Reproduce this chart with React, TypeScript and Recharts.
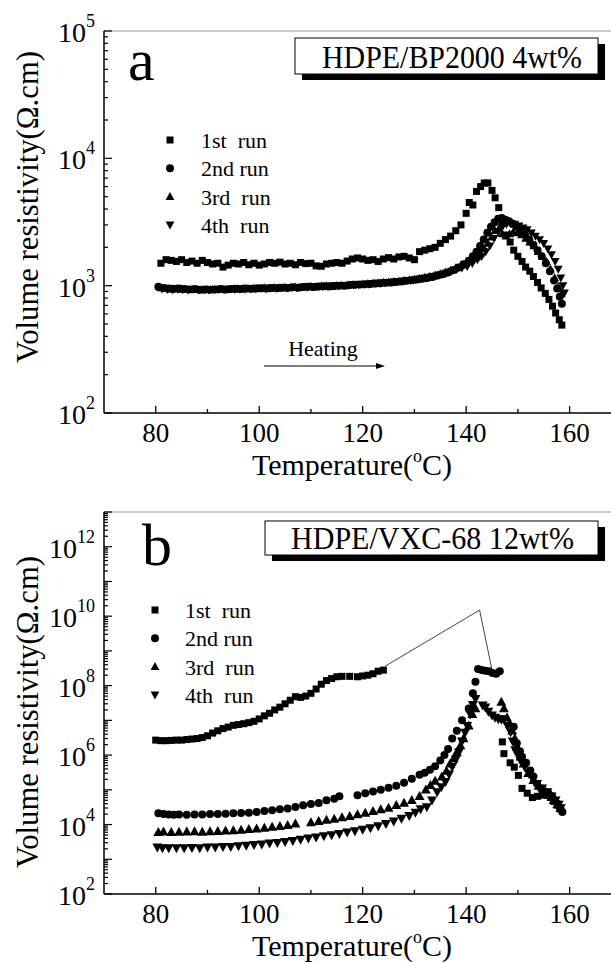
import React from 'react';
import { ScatterChart, Scatter, XAxis, YAxis, ReferenceLine } from 'recharts';

const FONT = "'Liberation Serif', 'Times New Roman', 'DejaVu Serif', serif";
const fontStyle = (size: number): React.CSSProperties => ({ fontFamily: FONT, fontSize: size });

// ---------- Panel a data (Temperature °C, Volume resistivity Ω.cm) ----------
const run1A: number[][] = [
  [81, 1500], [82, 1600], [83, 1580], [84, 1550], [85, 1600], [86, 1520], [87, 1560], [88, 1500], [89, 1580], [90, 1520],
  [91, 1480], [92, 1500], [93, 1400], [94, 1450], [95, 1500], [96, 1480], [97, 1520], [98, 1460], [99, 1500], [100, 1450],
  [101, 1480], [102, 1520], [103, 1500], [104, 1530], [105, 1480], [106, 1500], [107, 1460], [108, 1520], [109, 1490], [110, 1500],
  [111, 1430], [112, 1420], [113, 1480], [114, 1500], [115, 1520], [116, 1500], [117, 1560], [118, 1620], [119, 1650], [120, 1620],
  [121, 1580], [122, 1600], [123, 1550], [124, 1620], [125, 1660], [126, 1620], [127, 1680], [128, 1700], [129, 1650], [130, 1600],
  [131, 1850], [132, 1900], [133, 1950], [134, 2000], [135, 2150], [136, 2300], [137, 2450], [138, 2700], [139, 3000], [140, 3700],
  [140.6, 4500], [141.3, 4300], [142, 5500], [142.8, 6000], [143.5, 6400], [144.2, 6400], [145, 5600], [145.6, 4900], [146.3, 4100],
  [147, 3100], [147.7, 2500], [148.5, 2200], [149.2, 1900], [150, 1700], [150.8, 1550], [151.5, 1400], [152.3, 1300], [153, 1180],
  [153.8, 1060], [154.5, 960], [155.3, 870], [156, 780], [156.7, 690], [157.3, 610], [158, 540], [158.5, 490],
];

const run2A: number[][] = [
  [80.5, 980], [81.5, 960], [82.5, 950], [83.5, 945], [84.5, 950], [85.5, 940], [86.5, 935], [87.5, 940], [88.5, 930], [89.5, 935],
  [90.5, 930], [91.5, 935], [92.5, 940], [93.5, 935], [94.5, 940], [95.5, 945], [96.5, 940], [97.5, 950], [98.5, 945], [99.5, 950],
  [100.5, 955], [101.5, 950], [102.5, 960], [103.5, 955], [104.5, 965], [105.5, 960], [106.5, 970], [107.5, 965], [108.5, 975], [109.5, 980],
  [110.5, 975], [111.5, 985], [112.5, 990], [113.5, 985], [114.5, 995], [115.5, 1000], [116.5, 1000], [117.5, 1010], [118.5, 1015], [119.5, 1020],
  [120.5, 1025], [121.5, 1030], [122.5, 1040], [123.5, 1045], [124.5, 1055], [125.5, 1060], [126.5, 1070], [127.5, 1080], [128.5, 1095], [129.5, 1105],
  [130.5, 1120], [131.5, 1135], [132.5, 1150], [133.5, 1170], [134.5, 1200], [135.5, 1230], [136.5, 1270], [137.5, 1320], [138.5, 1390], [139.5, 1470],
  [140.5, 1570], [141.3, 1700], [142, 1850], [142.7, 2050], [143.4, 2300], [144.1, 2600], [144.8, 2900], [145.5, 3150], [146.2, 3350], [146.9, 3400],
  [147.6, 3300], [148.3, 3200], [149, 3050], [149.8, 2900], [150.6, 2700], [151.4, 2500], [152.2, 2300], [153, 2100], [153.8, 1900], [154.6, 1700],
  [155.4, 1500], [156.2, 1300], [157, 1100], [157.6, 950], [158.1, 820], [158.5, 720],
];

const run3A: number[][] = [
  [81, 960], [82, 950], [83, 940], [84, 945], [85, 935], [86, 940], [87, 930], [88, 935], [89, 925], [90, 930],
  [91, 935], [92, 930], [93, 940], [94, 935], [95, 945], [96, 940], [97, 950], [98, 945], [99, 955], [100, 950],
  [101, 960], [102, 955], [103, 965], [104, 960], [105, 970], [106, 965], [107, 975], [108, 970], [109, 980], [110, 985],
  [111, 980], [112, 990], [113, 995], [114, 990], [115, 1000], [116, 1005], [117, 1010], [118, 1015], [119, 1020], [120, 1030],
  [121, 1035], [122, 1045], [123, 1050], [124, 1060], [125, 1065], [126, 1075], [127, 1085], [128, 1095], [129, 1110], [130, 1120],
  [131, 1140], [132, 1160], [133, 1180], [134, 1210], [135, 1240], [136, 1280], [137, 1320], [138, 1380], [139, 1440], [140, 1500],
  [141, 1580], [142, 1680], [142.8, 1800], [143.5, 1950], [144.2, 2150], [144.9, 2400], [145.6, 2700], [146.3, 2800], [147, 2550], [147.7, 2450],
  [148.4, 2550], [149.1, 2650], [149.9, 2600], [150.7, 2500], [151.5, 2350], [152.3, 2200], [153.1, 2050], [153.9, 1850], [154.7, 1700], [155.5, 1550],
  [156.3, 1350], [157.1, 1150], [157.8, 980], [158.4, 860],
];

const run4A: number[][] = [
  [81.2, 945], [82.2, 935], [83.2, 930], [84.2, 940], [85.2, 930], [86.2, 925], [87.2, 935], [88.2, 925], [89.2, 930], [90.2, 925],
  [91.2, 930], [92.2, 935], [93.2, 930], [94.2, 940], [95.2, 935], [96.2, 945], [97.2, 940], [98.2, 950], [99.2, 945], [100.2, 955],
  [101.2, 950], [102.2, 960], [103.2, 955], [104.2, 965], [105.2, 960], [106.2, 970], [107.2, 965], [108.2, 975], [109.2, 975], [110.2, 980],
  [111.2, 985], [112.2, 985], [113.2, 990], [114.2, 995], [115.2, 995], [116.2, 1005], [117.2, 1005], [118.2, 1015], [119.2, 1020], [120.2, 1025],
  [121.2, 1030], [122.2, 1040], [123.2, 1045], [124.2, 1055], [125.2, 1060], [126.2, 1070], [127.2, 1080], [128.2, 1090], [129.2, 1100], [130.2, 1115],
  [131.2, 1130], [132.2, 1150], [133.2, 1170], [134.2, 1195], [135.2, 1225], [136.2, 1260], [137.2, 1300], [138.2, 1340], [139.2, 1380], [140.2, 1420],
  [141.2, 1500], [142.2, 1600], [143, 1700], [143.8, 1850], [144.6, 2050], [145.4, 2350], [146.2, 2650], [147, 2900], [147.8, 3050], [148.6, 3100],
  [149.4, 3050], [150.2, 2950], [151, 2850], [151.8, 2750], [152.6, 2600], [153.4, 2450], [154.2, 2300], [155, 2150], [155.8, 1950], [156.5, 1750],
  [157.2, 1550], [157.8, 1350], [158.3, 1150], [158.7, 1000], [159, 880],
];

// ---------- Panel b data ----------
const run1B: number[][] = [
  [80, 2.7e6], [81, 2.6e6], [82, 2.6e6], [83, 2.65e6], [84, 2.7e6], [85, 2.7e6], [86, 2.8e6], [87, 2.9e6], [88, 3.0e6], [89, 3.2e6],
  [90, 3.6e6], [91, 4.3e6], [92, 5e6], [93, 5.8e6], [94, 6.4e6], [95, 7.2e6], [96, 7.6e6], [97, 8e6], [98, 8.6e6], [99, 9.4e6],
  [100, 1.1e7], [101, 1.35e7], [102, 1.6e7], [103, 2e7], [104, 2.4e7], [105, 3e7], [106, 3.8e7], [107, 4.8e7], [108, 4.6e7], [109, 5e7],
  [110, 6e7], [111, 8e7], [112, 1.1e8], [113, 1.4e8], [114, 1.6e8], [115, 1.8e8], [116, 1.85e8], [117.5, 1.85e8], [119, 1.8e8], [120, 1.9e8],
  [121, 2e8], [122, 2.2e8], [123, 2.6e8], [124, 2.8e8],
  [147, 2.4e6], [147.3, 1.1e6], [148.5, 6e5], [149.3, 4.5e5], [150.1, 2.6e5], [150.8, 1.1e5], [151.8, 8e4], [152.8, 6e4], [153.8, 6.5e4],
  [154.7, 7e4], [155.5, 7.5e4], [156.3, 6e4], [157, 4.6e4], [157.7, 3.6e4], [158.2, 2.8e4],
];

const run2B: number[][] = [
  [80.5, 2.1e4], [81.5, 2e4], [82.5, 1.95e4], [83.5, 1.9e4], [84.5, 1.95e4], [86, 1.9e4], [87.5, 1.95e4], [89, 1.95e4], [90.5, 2e4], [92, 2e4],
  [93.5, 2.05e4], [95, 2.1e4], [96.5, 2.15e4], [98, 2.2e4], [99.5, 2.3e4], [101, 2.45e4], [102.5, 2.6e4], [104, 2.75e4], [105.5, 2.9e4], [107, 3.2e4],
  [108.5, 3.6e4], [110, 3.9e4], [111.5, 4.2e4], [113, 5e4], [114.5, 5.5e4], [115.5, 6.5e4], [119, 7e4], [120.5, 8e4], [122, 9e4], [123.5, 1e5],
  [125, 1.15e5], [126.5, 1.3e5], [128, 1.6e5], [129.5, 2.1e5], [131, 2.7e5], [132, 3.1e5], [133, 3.8e5], [134, 4.8e5], [135, 7e5], [135.8, 1e6],
  [136.5, 1.5e6], [137.3, 3e6], [138.2, 5e6], [139.2, 1e7], [140.5, 2.2e7], [141.3, 6e7], [141.8, 1.3e8], [142.3, 3e8], [143, 2.8e8], [143.7, 2.7e8],
  [144.4, 2.6e8], [145.1, 2.3e8], [145.8, 2.2e8], [146.5, 2.6e8], [149.2, 6.5e6], [149.8, 2.2e6], [150.4, 1.3e6], [150.8, 9e5], [151.6, 6e5], [152.4, 3.6e5],
  [153, 2.4e5], [153.7, 1.5e5], [154.5, 1.1e5], [155.2, 9e4], [155.9, 8e4], [156.6, 6.5e4], [157.2, 5e4], [157.7, 4e4], [158.2, 3e4], [158.6, 2.3e4],
];

const run3B: number[][] = [
  [80.5, 6e3], [81.5, 6.2e3], [83, 6e3], [84.5, 6.1e3], [86, 6.2e3], [87.5, 6.3e3], [89, 6.1e3], [90.5, 6.3e3], [92, 6.4e3], [93.5, 6.6e3],
  [95, 6.8e3], [96.5, 7e3], [98, 7.3e3], [99.5, 7.6e3], [101, 8e3], [102.5, 8.5e3], [104, 9e3], [105.5, 9.6e3], [107, 1.05e4], [110, 1.15e4],
  [111.5, 1.25e4], [113, 1.35e4], [114.5, 1.45e4], [116, 1.6e4], [117.5, 1.75e4], [119, 1.95e4], [120.5, 2.15e4], [122, 2.4e4], [123.5, 2.7e4], [125, 3e4],
  [126.5, 3.6e4], [128, 4.2e4], [129.5, 5e4], [131, 6.5e4], [132.2, 1e5], [133.1, 1.35e5], [134, 1.8e5], [135.3, 2.4e5], [136.2, 3.5e5], [136.9, 5.6e5],
  [137.6, 8e5], [138.2, 1.2e6], [138.9, 1.9e6], [139.5, 3e6], [140.5, 7e6], [141.2, 1.5e7], [141.8, 2.2e7], [146.8, 3.4e7], [147.3, 2.2e7], [147.9, 1.2e7],
  [148.4, 8e6], [148.9, 5e6], [149.4, 3e6], [149.8, 1.7e6], [150.5, 9e5], [151.1, 5.6e5], [152, 3e5], [153, 1.9e5], [154, 1.3e5], [155, 1e5],
  [156, 7e4], [156.9, 5e4], [157.6, 3.8e4], [158.2, 3e4],
];

const run4B: number[][] = [
  [80.3, 2.2e3], [81.3, 2.1e3], [82.5, 2.1e3], [84, 2.1e3], [85.5, 2.1e3], [87, 2.15e3], [88.5, 2.1e3], [90, 2.2e3], [91.5, 2.2e3], [93, 2.3e3],
  [94.5, 2.3e3], [96, 2.4e3], [97.5, 2.5e3], [99, 2.6e3], [100.5, 2.7e3], [102, 2.9e3], [103.5, 3e3], [105, 3.2e3], [106.5, 3.4e3], [108, 3.7e3],
  [109.5, 4e3], [111, 4.3e3], [112.5, 4.7e3], [114, 5e3], [115.5, 5.4e3], [117, 6e3], [118.5, 6.5e3], [120, 7.2e3], [121.5, 8e3], [123, 9e3],
  [124.5, 1.05e4], [126, 1.25e4], [127.5, 1.5e4], [129, 1.8e4], [130.2, 2.2e4], [131.2, 2.8e4], [132.4, 3.2e4], [133.4, 5e4], [134.4, 8.7e4], [135.2, 1.2e5],
  [136, 1.7e5], [136.7, 2.8e5], [137.3, 4.6e5], [138, 7.5e5], [138.6, 1.2e6], [139.2, 2.5e6], [139.8, 4.5e6], [140.2, 7e6], [140.8, 1.5e7], [141.3, 2.8e7],
  [141.8, 4.2e7], [143.2, 2.7e7], [143.7, 2.4e7], [144.3, 1.8e7], [145, 1.4e7], [145.6, 1.2e7], [146.2, 1.1e7], [146.8, 1.05e7], [147.3, 1.1e7], [148, 7e6],
  [148.6, 4.6e6], [149, 2.5e6], [149.5, 1.4e6], [150, 1e6], [150.5, 7e5], [151.3, 4.6e5], [152.1, 3e5], [152.9, 2e5], [153.7, 1.5e5], [154.7, 1.1e5],
  [155.7, 8.7e4], [156.5, 6.5e4], [157.3, 5e4], [157.9, 3.8e4], [158.3, 3e4],
];

// annotation pointer in panel b (data coordinates)
const pointerApex = { x: 142.6, y: 1.5e10 };
const pointerLeft = { x: 124.3, y: 3.6e8 };
const pointerRight = { x: 145.1, y: 2.4e8 };

// ---------- Axes ----------
const xTicks = [80, 90, 100, 110, 120, 130, 140, 150, 160];
const xLabelTicks = [80, 100, 120, 140, 160];
const aDecades = [2, 3, 4, 5];
const aLabelDecades = [2, 3, 4, 5];
const bDecades = [2, 3, 4, 5, 6, 7, 8, 9, 10, 11, 12, 13];
const bLabelDecades = [2, 4, 6, 8, 10, 12];
const legendLabels = ['1st  run', '2nd run', '3rd  run', '4th  run'];

const logTicks = (decades: number[]) => {
  const out: number[] = [];
  decades.forEach((d, i) => {
    out.push(Math.pow(10, d));
    if (i < decades.length - 1) for (let m = 2; m <= 9; m++) out.push(m * Math.pow(10, d));
  });
  return out;
};

const toPts = (arr: number[][]) => arr.map(([t, r]) => ({ t, r }));

// ---------- Marker shapes ----------
const sq = (s: number) => (p: any) => <rect x={p.cx - s / 2} y={p.cy - s / 2} width={s} height={s} fill="#000" />;
const ci = (s: number) => (p: any) => <circle cx={p.cx} cy={p.cy} r={s / 2} fill="#000" />;
const tu = (s: number) => (p: any) => (
  <polygon points={`${p.cx},${p.cy - s * 0.58} ${p.cx + s * 0.55},${p.cy + s * 0.42} ${p.cx - s * 0.55},${p.cy + s * 0.42}`} fill="#000" />
);
const td = (s: number) => (p: any) => (
  <polygon points={`${p.cx},${p.cy + s * 0.58} ${p.cx + s * 0.55},${p.cy - s * 0.42} ${p.cx - s * 0.55},${p.cy - s * 0.42}`} fill="#000" />
);

const XTick = (props: any) => {
  const { x, y, payload } = props;
  const v = payload.value;
  const major = xLabelTicks.includes(v);
  return (
    <g>
      <line x1={x} x2={x} y1={y} y2={y - (major ? 7 : 4)} stroke="#000" strokeWidth={1.3} />
      {major && (
        <text x={x} y={y + 29} textAnchor="middle" style={fontStyle(27)} fill="#000">
          {v}
        </text>
      )}
    </g>
  );
};

const makeYTick = (labelDecades: number[], majorLen: number, minorLen: number) => (props: any) => {
  const { x, y, payload } = props;
  const v = payload.value;
  const d = Math.log10(v);
  const rd = Math.round(d);
  const major = Math.abs(d - rd) < 1e-6;
  const labelled = major && labelDecades.includes(rd);
  return (
    <g>
      <line x1={x} x2={x + (major ? majorLen : minorLen)} y1={y} y2={y} stroke="#000" strokeWidth={1.2} />
      {labelled && (
        <text x={x - 9} y={y + 11} textAnchor="end" style={fontStyle(28)} fill="#000">
          10
          <tspan dy={-15} style={fontStyle(18)}>
            {rd}
          </tspan>
        </text>
      )}
    </g>
  );
};

const Legend = ({ x, y0, step, textX, s }: any) => {
  const shapes = [sq(s), ci(s + 1), tu(s + 1), td(s + 1)];
  return (
    <g>
      {legendLabels.map((l, i) => {
        const cy = y0 + i * step;
        const Sh = shapes[i];
        return (
          <g key={l}>
            {Sh({ cx: x, cy })}
            <text x={textX} y={cy + 8} fill="#000" style={{ ...fontStyle(22), whiteSpace: 'pre' }}>
              {l}
            </text>
          </g>
        );
      })}
    </g>
  );
};

const XTitle = ({ y }: { y: number }) => (
  <text x={352} y={y} textAnchor="middle" style={fontStyle(30)} fill="#000">
    Temperature(
    <tspan dy={-13} style={fontStyle(18)}>o</tspan>
    <tspan dy={13}>C)</tspan>
  </text>
);

const YTitle = ({ cy }: { cy: number }) => (
  <text
    x={38}
    y={cy}
    textAnchor="middle"
    transform={`rotate(-90, 38, ${cy})`}
    style={fontStyle(31)}
    textLength={312}
    lengthAdjust="spacingAndGlyphs"
    fill="#000"
  >
    Volume resistivity(Ω.cm)
  </text>
);

const Box = ({ x, y, w, h, text, tx, ty, tl }: any) => (
  <g>
    <rect x={x + 7} y={y + 6} width={w} height={h} fill="#000" />
    <rect x={x} y={y} width={w} height={h} fill="#fff" stroke="#000" strokeWidth={1} />
    <text x={tx} y={ty} style={fontStyle(31)} textLength={tl} lengthAdjust="spacingAndGlyphs" fill="#000">
      {text}
    </text>
  </g>
);

const overlayStyle: React.CSSProperties = { position: 'absolute', left: 0, top: 0, pointerEvents: 'none', overflow: 'visible' };

export default function App() {
  const aTicks = logTicks(aDecades);
  const bTicks = logTicks(bDecades);
  return (
    <div style={{ position: 'absolute', left: 0, top: 0, width: 611, height: 962, background: '#fff', overflow: 'hidden', fontFamily: FONT }}>
      {/* Panel a */}
      <div style={{ position: 'absolute', left: 0, top: 0, width: 611, height: 480 }}>
        <ScatterChart width={611} height={480} margin={{ top: 31, right: 0, bottom: 0, left: 0 }}>
          <XAxis
            type="number"
            dataKey="t"
            domain={[70, 168]}
            allowDataOverflow
            ticks={xTicks}
            interval={0}
            tickSize={0}
            tickMargin={0}
            tickLine={false}
            tick={XTick}
            axisLine={{ stroke: '#000', strokeWidth: 1.5 }}
            height={67}
          />
          <YAxis
            type="number"
            dataKey="r"
            scale="log"
            domain={[100, 100000]}
            allowDataOverflow
            ticks={aTicks}
            interval={0}
            tickSize={0}
            tickMargin={0}
            tickLine={false}
            tick={makeYTick(aLabelDecades, 8, 4)}
            axisLine={{ stroke: '#000', strokeWidth: 1.5 }}
            width={104}
          />
          <ReferenceLine y={100000} stroke="#999" strokeWidth={1} />
          <Scatter data={toPts(run1A)} shape={sq(7)} isAnimationActive={false} />
          <Scatter data={toPts(run2A)} shape={ci(8)} isAnimationActive={false} />
          <Scatter data={toPts(run3A)} shape={tu(8)} isAnimationActive={false} />
          <Scatter data={toPts(run4A)} shape={td(8)} isAnimationActive={false} />
        </ScatterChart>
        <svg width={611} height={480} style={overlayStyle}>
          <text x={128} y={80} style={fontStyle(60)} fill="#000">a</text>
          <Box x={295} y={38} w={303} h={36} text="HDPE/BP2000 4wt%" tx={322} ty={68} tl={260} />
          <Legend x={170} y0={140} step={28.3} textX={201} s={7} />
          <text x={323} y={356} textAnchor="middle" style={fontStyle(22)} fill="#000">Heating</text>
          <line x1={264} y1={366} x2={378} y2={366} stroke="#000" strokeWidth={1} />
          <polygon points="385,366 376,363 376,369" fill="#000" />
          <XTitle y={475} />
          <YTitle cy={207} />
        </svg>
      </div>

      {/* Panel b */}
      <div style={{ position: 'absolute', left: 0, top: 480, width: 611, height: 482 }}>
        <ScatterChart width={611} height={482} margin={{ top: 32, right: 0, bottom: 0, left: 0 }}>
          <XAxis
            type="number"
            dataKey="t"
            domain={[70, 168]}
            allowDataOverflow
            ticks={xTicks}
            interval={0}
            tickSize={0}
            tickMargin={0}
            tickLine={false}
            tick={XTick}
            axisLine={{ stroke: '#000', strokeWidth: 1.5 }}
            height={68}
          />
          <YAxis
            type="number"
            dataKey="r"
            scale="log"
            domain={[100, 1e13]}
            allowDataOverflow
            ticks={bTicks}
            interval={0}
            tickSize={0}
            tickMargin={0}
            tickLine={false}
            tick={makeYTick(bLabelDecades, 8, 4)}
            axisLine={{ stroke: '#000', strokeWidth: 1.5 }}
            width={104}
          />
          <ReferenceLine y={1e13} stroke="#999" strokeWidth={1} />
          <ReferenceLine segment={[pointerLeft, pointerApex]} stroke="#444" strokeWidth={1} ifOverflow="visible" />
          <ReferenceLine segment={[pointerApex, pointerRight]} stroke="#444" strokeWidth={1} ifOverflow="visible" />
          <Scatter data={toPts(run1B)} shape={sq(7)} isAnimationActive={false} />
          <Scatter data={toPts(run2B)} shape={ci(8)} isAnimationActive={false} />
          <Scatter data={toPts(run3B)} shape={tu(9)} isAnimationActive={false} />
          <Scatter data={toPts(run4B)} shape={td(9)} isAnimationActive={false} />
        </ScatterChart>
        <svg width={611} height={482} style={overlayStyle}>
          <text x={142} y={85} style={fontStyle(60)} fill="#000">b</text>
          <Box x={265} y={41} w={333} h={34} text="HDPE/VXC-68 12wt%" tx={291} ty={69} tl={283} />
          <Legend x={155} y0={130} step={28.3} textX={185} s={7} />
          <XTitle y={476} />
          <YTitle cy={232} />
        </svg>
      </div>
    </div>
  );
}
